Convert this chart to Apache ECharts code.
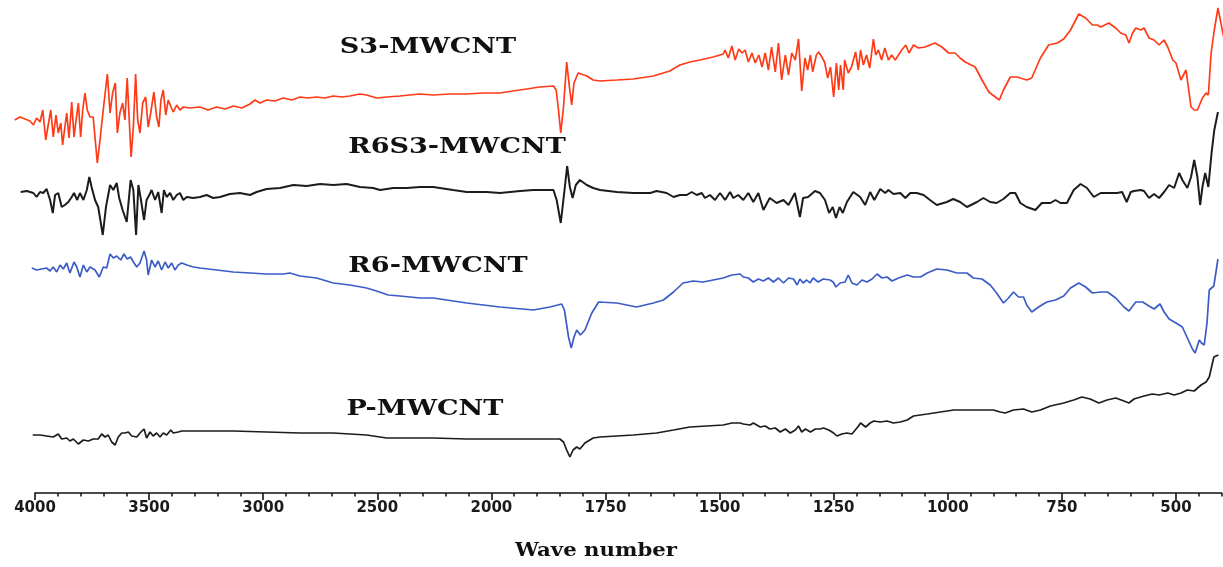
<!DOCTYPE html>
<html>
<head>
<meta charset="utf-8">
<script src="https://cdn.jsdelivr.net/npm/echarts@6/dist/echarts.min.js"></script>
<style>html,body{margin:0;padding:0;background:#fff}#c{width:1223px;height:567px}</style>
</head>
<body>
<div id="c"></div>
<script>
// Wavenumber axis ticks (cm^-1), split scale: 500 per major step above 2000, 250 per step below
const majorTicks = [4000, 3500, 3000, 2500, 2000, 1750, 1500, 1250, 1000, 750, 500];
const axisEnd = 400;
const dataStart = 4100;
const seriesNames = ['S3-MWCNT', 'R6S3-MWCNT', 'R6-MWCNT', 'P-MWCNT'];
const axisTitle = 'Wave number';

// [wavenumber, offset transmittance (a.u.)]
const S3_MWCNT = [[4089,377],[4066,380],[4044,378],[4022,376],[4007,372],[3993,379],[3978,375],[3966,387],[3953,357],[3942,372],[3931,387],[3920,360],[3908,382],[3898,364],[3887,374],[3879,352],[3869,370],[3861,384],[3851,359],[3839,395],[3829,360],[3820,377],[3810,394],[3800,360],[3791,387],[3781,404],[3771,387],[3759,380],[3745,380],[3727,334],[3715,357],[3701,387],[3683,423],[3671,384],[3660,404],[3648,414],[3639,364],[3628,384],[3616,394],[3606,377],[3596,419],[3579,340],[3569,370],[3559,423],[3550,377],[3540,364],[3528,394],[3515,400],[3504,370],[3493,384],[3479,405],[3467,380],[3457,370],[3448,397],[3438,407],[3427,382],[3416,397],[3404,390],[3394,385],[3379,392],[3365,387],[3350,390],[3321,389],[3277,390],[3242,387],[3204,390],[3167,388],[3131,391],[3093,389],[3058,393],[3036,397],[3014,394],[2985,397],[2948,396],[2912,399],[2874,397],[2839,400],[2804,399],[2766,400],[2729,399],[2693,401],[2655,400],[2620,401],[2576,403],[2547,402],[2503,399],[2459,400],[2401,401],[2313,403],[2256,402],[2181,403],[2108,403],[2037,404],[1981,404],[1953,406],[1923,408],[1894,410],[1864,411],[1858,407],[1853,387],[1848,364],[1842,390],[1835,435],[1829,410],[1824,392],[1819,414],[1810,424],[1791,421],[1777,417],[1762,416],[1725,417],[1689,418],[1645,421],[1609,426],[1587,432],[1565,435],[1543,437],[1514,440],[1492,443],[1488,447],[1481,439],[1473,451],[1466,437],[1458,448],[1451,444],[1444,447],[1437,435],[1429,444],[1422,434],[1414,442],[1407,430],[1400,444],[1393,427],[1386,450],[1378,425],[1371,454],[1364,417],[1356,442],[1349,422],[1342,444],[1334,437],[1327,458],[1320,406],[1313,439],[1307,427],[1301,442],[1296,425],[1288,442],[1283,445],[1276,440],[1270,435],[1263,419],[1257,430],[1250,400],[1244,434],[1239,407],[1235,432],[1229,407],[1226,437],[1218,424],[1211,430],[1202,445],[1196,427],[1191,447],[1185,432],[1178,442],[1171,429],[1163,458],[1158,442],[1152,447],[1145,437],[1138,449],[1130,437],[1123,442],[1115,437],[1108,442],[1101,447],[1092,452],[1085,444],[1075,452],[1064,449],[1050,450],[1028,454],[1013,450],[998,444],[984,444],[973,439],[962,435],[940,430],[925,417],[910,405],[896,400],[887,397],[878,407],[863,420],[848,420],[827,417],[816,419],[797,439],[779,452],[760,454],[746,458],[731,467],[713,483],[698,479],[683,472],[672,472],[665,470],[647,474],[632,469],[621,464],[610,462],[603,454],[595,464],[588,469],[577,467],[570,469],[559,459],[548,457],[537,452],[526,457],[518,450],[507,437],[500,434],[489,417],[478,427],[467,390],[460,387],[453,387],[442,399],[434,404],[429,402],[423,444],[416,467],[408,489],[395,459]];

const R6S3_MWCNT = [[4063,305],[4036,306],[4007,304],[3993,300],[3978,305],[3964,304],[3949,308],[3934,297],[3922,284],[3912,302],[3898,304],[3883,290],[3869,292],[3854,295],[3839,300],[3829,304],[3815,297],[3803,304],[3788,297],[3773,307],[3762,320],[3752,310],[3737,297],[3723,290],[3703,262],[3689,290],[3671,312],[3657,307],[3642,314],[3631,299],[3616,287],[3598,275],[3581,317],[3569,307],[3557,262],[3547,312],[3537,299],[3522,277],[3511,297],[3499,302],[3489,307],[3474,297],[3460,305],[3445,284],[3435,307],[3423,300],[3408,304],[3394,297],[3379,302],[3365,304],[3350,297],[3335,300],[3306,299],[3277,300],[3248,302],[3219,299],[3189,300],[3146,303],[3102,304],[3058,302],[3029,305],[2985,308],[2926,309],[2868,312],[2809,311],[2751,313],[2693,312],[2634,313],[2576,310],[2518,309],[2488,307],[2430,309],[2371,309],[2313,310],[2255,310],[2168,307],[2108,305],[2021,305],[1981,304],[1937,306],[1908,307],[1864,307],[1857,297],[1848,274],[1839,310],[1834,331],[1828,310],[1822,299],[1815,312],[1806,317],[1791,312],[1777,309],[1762,307],[1725,305],[1689,304],[1652,304],[1638,306],[1616,304],[1601,300],[1587,302],[1572,302],[1561,305],[1550,302],[1539,304],[1532,299],[1521,302],[1510,297],[1499,304],[1488,297],[1477,305],[1470,299],[1459,302],[1448,297],[1437,304],[1426,295],[1415,304],[1404,287],[1390,299],[1375,294],[1360,297],[1349,292],[1335,304],[1324,280],[1317,299],[1306,300],[1291,306],[1280,304],[1269,297],[1260,284],[1252,290],[1245,279],[1237,290],[1230,284],[1221,295],[1207,305],[1192,300],[1181,292],[1170,305],[1161,297],[1148,308],[1137,304],[1130,307],[1119,303],[1104,304],[1093,299],[1082,304],[1068,304],[1053,302],[1039,297],[1024,292],[1002,295],[988,298],[973,295],[958,290],[936,295],[922,299],[907,295],[893,294],[878,298],[863,304],[852,304],[841,294],[827,290],[808,287],[794,294],[775,294],[764,297],[753,294],[739,294],[724,307],[709,313],[695,309],[680,300],[665,304],[640,304],[629,304],[618,305],[608,295],[599,305],[592,306],[577,307],[570,306],[559,299],[548,303],[537,299],[526,305],[515,312],[504,309],[493,324],[486,317],[475,309],[467,320],[460,337],[453,320],[447,292],[442,310],[436,324],[429,310],[422,344],[416,367],[408,385]];

const R6_MWCNT = [[4014,229],[3993,227],[3971,228],[3949,229],[3934,226],[3920,230],[3905,225],[3890,232],[3876,228],[3861,234],[3847,224],[3829,235],[3817,230],[3803,220],[3788,232],[3773,225],[3759,230],[3737,227],[3718,220],[3701,230],[3686,229],[3671,243],[3657,239],[3642,241],[3624,237],[3610,243],[3596,238],[3581,240],[3569,235],[3554,230],[3540,234],[3522,246],[3511,237],[3504,222],[3489,237],[3474,230],[3460,236],[3445,227],[3430,235],[3416,229],[3401,234],[3387,227],[3372,232],[3357,234],[3335,232],[3306,230],[3277,229],[3204,227],[3131,225],[3058,224],[2985,223],[2912,223],[2883,224],[2839,221],[2766,219],[2693,214],[2620,212],[2547,209],[2503,206],[2452,202],[2401,201],[2313,199],[2255,199],[2108,194],[1981,190],[1908,187],[1872,190],[1846,193],[1840,187],[1831,160],[1825,149],[1819,160],[1813,167],[1805,162],[1795,167],[1780,184],[1765,195],[1725,194],[1682,190],[1645,194],[1623,197],[1601,205],[1580,214],[1558,216],[1536,215],[1514,217],[1492,219],[1473,222],[1455,223],[1448,220],[1437,219],[1426,215],[1415,218],[1404,216],[1393,219],[1382,215],[1371,219],[1360,214],[1349,219],[1338,218],[1330,212],[1324,218],[1317,214],[1309,217],[1302,214],[1295,219],[1284,215],[1273,218],[1258,217],[1251,215],[1245,210],[1236,214],[1225,215],[1218,222],[1210,214],[1199,212],[1188,217],[1177,215],[1166,218],[1155,223],[1144,219],[1133,220],[1122,216],[1108,219],[1089,222],[1075,220],[1060,220],[1045,224],[1024,228],[1002,227],[980,224],[958,224],[944,219],[925,218],[907,212],[893,204],[878,194],[867,199],[856,205],[845,200],[834,200],[827,192],[816,185],[801,190],[783,195],[764,197],[746,201],[731,209],[713,214],[698,210],[683,204],[665,205],[650,205],[632,199],[614,190],[603,186],[588,195],[573,195],[559,191],[548,188],[535,193],[526,185],[515,178],[500,174],[486,170],[473,157],[464,148],[458,144],[449,157],[444,154],[438,152],[432,174],[427,207],[417,211],[408,238]];

const P_MWCNT = [[4010,62],[3978,62],[3949,61],[3920,60],[3898,63],[3883,58],[3861,59],[3847,56],[3832,58],[3810,53],[3788,57],[3766,56],[3745,58],[3723,58],[3708,63],[3693,60],[3679,62],[3664,55],[3649,52],[3635,60],[3620,64],[3606,64],[3591,65],[3576,61],[3554,60],[3540,64],[3522,68],[3511,59],[3496,65],[3482,61],[3467,64],[3452,60],[3438,64],[3423,62],[3405,67],[3394,64],[3372,65],[3357,66],[3335,66],[3277,66],[3131,66],[2985,65],[2839,64],[2693,64],[2547,62],[2459,59],[2313,59],[2255,59],[2108,58],[1981,58],[1908,58],[1850,58],[1842,55],[1835,47],[1828,40],[1821,47],[1813,50],[1806,48],[1795,54],[1777,59],[1762,60],[1689,62],[1638,64],[1601,67],[1565,70],[1528,71],[1492,72],[1473,74],[1455,74],[1448,73],[1433,72],[1426,74],[1411,70],[1400,71],[1390,68],[1378,69],[1367,65],[1356,68],[1345,64],[1334,67],[1327,71],[1320,65],[1312,68],[1301,65],[1290,68],[1280,68],[1272,69],[1261,67],[1250,64],[1243,61],[1232,63],[1221,64],[1210,63],[1199,69],[1191,74],[1180,70],[1170,74],[1162,76],[1148,75],[1133,76],[1119,74],[1104,75],[1089,77],[1075,81],[1045,83],[1016,85],[987,87],[958,87],[929,87],[900,87],[885,85],[874,84],[856,87],[834,88],[816,85],[797,87],[775,91],[746,94],[724,97],[706,100],[688,98],[669,94],[651,97],[632,99],[614,96],[603,94],[592,98],[570,101],[552,103],[537,102],[518,104],[504,102],[489,104],[475,107],[460,106],[445,112],[434,115],[427,120],[417,140],[407,142]];

// split-scale mapping: wavenumber -> axis unit (one unit per major tick step)
function toU(w) { return w >= 2000 ? (4000 - w) / 500 : 4 + (2000 - w) / 250; }
function fromU(u) { return u <= 4 ? 4000 - 500 * u : 2000 - 250 * (u - 4); }

const majorU = majorTicks.map(toU);
const endU = toU(axisEnd);
const startU = toU(dataStart);
const minorU = [];
for (let i = 0; i < majorTicks.length; i++) {
  const a = majorTicks[i];
  const b = i + 1 < majorTicks.length ? majorTicks[i + 1] : axisEnd - 1;
  const step = a > 2000 ? 100 : 50;
  for (let w = a - step; w > b; w -= step) minorU.push(toU(w));
}

// pixel layout
const plotRight = 1.4, axisLeft = 35, W = 1223;
const unitPx = (W - axisLeft - plotRight) / (endU - 0);
const dataLeft = axisLeft + startU * unitPx;

const chart = echarts.init(document.getElementById('c'), null, {renderer: 'canvas'});
const colors = ['#ff3b17', '#1c1c1c', '#3b5cc6', '#1c1c1c'];
const widths = [1.7, 2, 1.7, 1.7];
const dataSets = [S3_MWCNT, R6S3_MWCNT, R6_MWCNT, P_MWCNT];

const labelPos = [[428, 47], [457, 147], [438, 266], [425, 409]];
const serifFont = '"DejaVu Serif", "Liberation Serif", serif';

chart.setOption({
  animation: false,
  backgroundColor: '#ffffff',
  grid: [
    {left: dataLeft, right: plotRight, top: 0, bottom: 70, containLabel: false},
    {left: axisLeft, right: plotRight, top: 0, bottom: 74, containLabel: false}
  ],
  xAxis: [{
    gridIndex: 0, type: 'value', min: startU, max: endU, show: false
  }, {
    gridIndex: 1, type: 'value', min: 0, max: endU, position: 'bottom',
    axisLine: {show: true, onZero: false, lineStyle: {color: '#111', width: 1.6}},
    axisTick: {show: true, inside: false, length: 7, lineStyle: {color: '#111', width: 1.6}, customValues: majorU},
    axisLabel: {show: true, margin: 8, color: '#1a1a1a', fontSize: 15, fontWeight: 'bold', fontFamily: '"DejaVu Sans", sans-serif',
      customValues: majorU, formatter: v => String(Math.round(fromU(v)))},
    splitLine: {show: false}
  }, {
    gridIndex: 1, type: 'value', min: 0, max: endU, position: 'bottom',
    axisLine: {show: false, onZero: false},
    axisTick: {show: true, inside: false, length: 3.5, lineStyle: {color: '#111', width: 1.5}, customValues: minorU},
    axisLabel: {show: false},
    splitLine: {show: false}
  }],
  yAxis: [
    {gridIndex: 0, type: 'value', min: 0, max: 497, show: false, splitLine: {show: false}},
    {gridIndex: 1, type: 'value', min: 0, max: 493, show: false, splitLine: {show: false}}
  ],
  series: dataSets.map((d, i) => ({
    name: seriesNames[i], type: 'line', xAxisIndex: 0, yAxisIndex: 0, showSymbol: false, symbol: 'none', clip: false,
    lineStyle: {color: colors[i], width: widths[i]},
    data: d.map(p => [toU(p[0]), p[1]])
  })),
  graphic: seriesNames.map((n, i) => ({
    type: 'text', x: labelPos[i][0], y: labelPos[i][1], scaleX: 1.23,
    style: {text: n, fill: '#111', font: 'bold 22px ' + serifFont, textAlign: 'center', textVerticalAlign: 'middle'}
  })).concat([{
    type: 'text', x: 596, y: 551, scaleX: 1.18,
    style: {text: axisTitle, fill: '#111', font: 'bold 18px ' + serifFont, textAlign: 'center', textVerticalAlign: 'middle'}
  }])
});
</script>
</body>
</html>
